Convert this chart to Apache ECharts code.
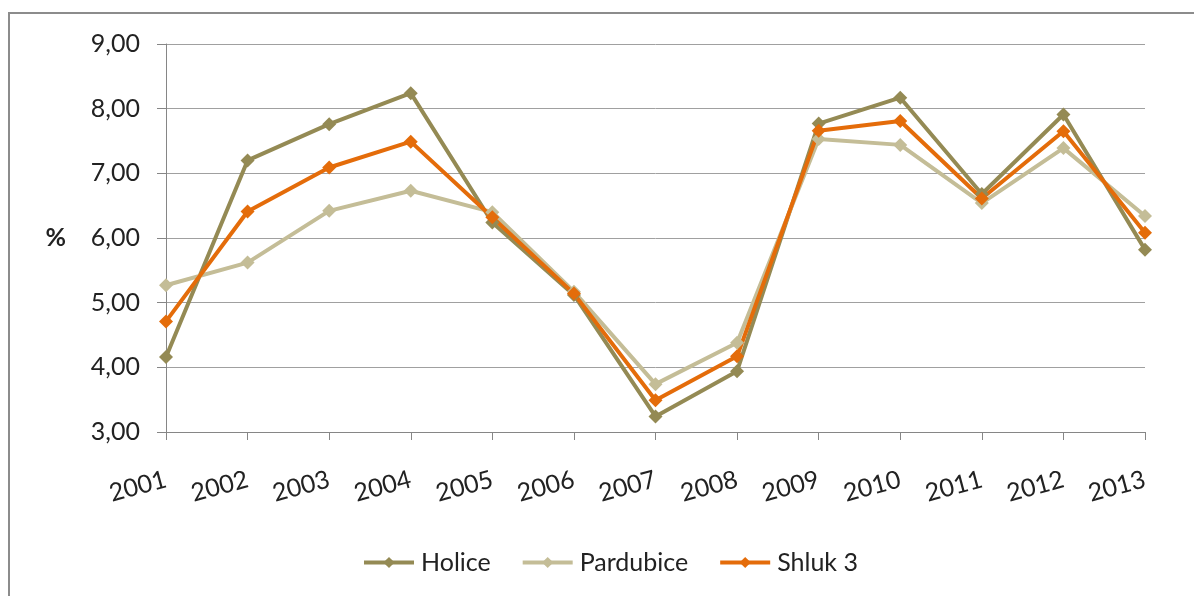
<!DOCTYPE html>
<html>
<head>
<meta charset="utf-8">
<script src="https://cdn.jsdelivr.net/npm/echarts@6/dist/echarts.min.js"></script>
<style>
  html, body { margin: 0; padding: 0; background: #fff; }
  #main { width: 1194px; height: 596px; }
</style>
</head>
<body>
<div id="main"></div>
<script>
var years = ['2001', '2002', '2003', '2004', '2005', '2006', '2007', '2008', '2009', '2010', '2011', '2012', '2013'];
var holice = [4.16, 7.20, 7.76, 8.24, 6.24, 5.12, 3.24, 3.94, 7.77, 8.17, 6.68, 7.91, 5.82];
var pardubice = [5.27, 5.62, 6.42, 6.73, 6.40, 5.17, 3.74, 4.38, 7.53, 7.44, 6.54, 7.39, 6.34];
var shluk3 = [4.71, 6.41, 7.09, 7.49, 6.32, 5.14, 3.49, 4.17, 7.66, 7.81, 6.61, 7.65, 6.08];
var yTicks = [3, 4, 5, 6, 7, 8, 9];

var myChart = echarts.init(document.getElementById('main'));
var font = 'Lato, "Open Sans", sans-serif';

function lineSeries(name, data, color) {
    return {
        name: name,
        type: 'line',
        data: data,
        symbol: 'diamond',
        symbolSize: 14,
        lineStyle: { width: 4, color: color },
        itemStyle: { color: color },
        emphasis: { disabled: true }
    };
}

var option = {
    animation: false,
    textStyle: { fontFamily: font },
    graphic: [{
        type: 'rect',
        shape: { x: 9, y: 13, width: 1200, height: 600 },
        style: { fill: null, stroke: '#8c8c8c', lineWidth: 2 },
        silent: true
    }],
    grid: { left: 166, right: 49, top: 44, bottom: 164 },
    legend: {
        bottom: 16,
        left: 357,
        itemWidth: 50,
        itemHeight: 14,
        itemGap: 30,
        lineStyle: { width: 4 },
        textStyle: { fontSize: 25, color: '#222', fontFamily: font, padding: [0, 0, 0, 2] },
        data: ['Holice', 'Pardubice', 'Shluk 3']
    },
    xAxis: {
        type: 'category',
        data: years,
        boundaryGap: false,
        axisLine: { lineStyle: { color: '#868686', width: 1 } },
        axisTick: { show: true, length: 8, lineStyle: { color: '#868686' } },
        axisLabel: {
            rotate: 15,
            margin: 47,
            fontSize: 25,
            color: '#222',
            fontFamily: font
        }
    },
    yAxis: {
        type: 'value',
        min: yTicks[0],
        max: yTicks[yTicks.length - 1],
        interval: 1,
        name: '%',
        nameLocation: 'middle',
        nameRotate: 0,
        nameGap: 100,
        nameTextStyle: { fontSize: 25, fontWeight: 'bold', color: '#222', fontFamily: font },
        axisLine: { show: true, lineStyle: { color: '#868686', width: 1 } },
        axisTick: { show: true, length: 9, lineStyle: { color: '#868686' } },
        splitLine: { lineStyle: { color: '#a0a0a0', width: 1 } },
        axisLabel: {
            margin: 26,
            fontSize: 25,
            color: '#222',
            fontFamily: font,
            formatter: function (v) { return v.toFixed(2).replace('.', ','); }
        }
    },
    series: [
        lineSeries('Holice', holice, '#948a54'),
        lineSeries('Pardubice', pardubice, '#c4bd97'),
        lineSeries('Shluk 3', shluk3, '#e46c0a')
    ]
};

myChart.setOption(option);
</script>
</body>
</html>
